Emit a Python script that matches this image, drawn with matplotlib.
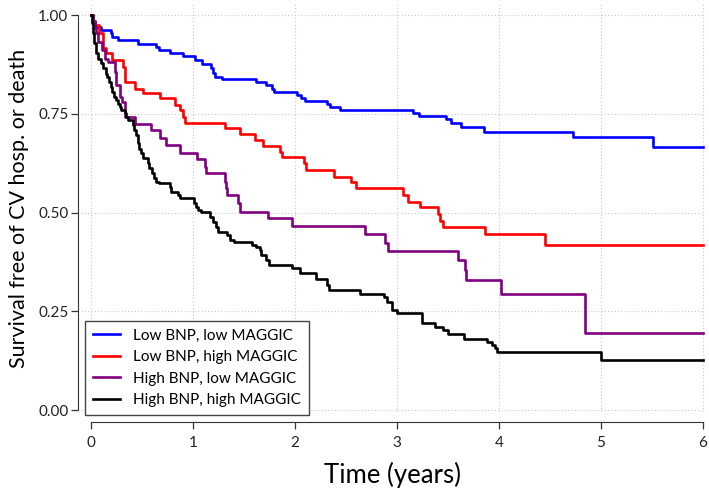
import numpy as np
import matplotlib
matplotlib.use("Agg")
import matplotlib.pyplot as plt

plt.rcParams['font.family'] = ['Lato', 'DejaVu Sans']

# Kaplan-Meier step curves (time in years, survival after each drop)
t_low_low = [0, 0.02, 0.04, 0.10, 0.20, 0.21, 0.26, 0.46, 0.64, 0.67, 0.77, 0.90, 1.02, 1.09,
             1.18, 1.20, 1.22, 1.28, 1.62, 1.72, 1.77, 1.79, 2.02, 2.06, 2.10, 2.31, 2.34, 2.44,
             3.16, 3.22, 3.48, 3.53, 3.63, 3.85, 4.73, 5.51, 6.0]
s_low_low = [1.0, 0.98, 0.970, 0.961, 0.955, 0.945, 0.937, 0.926, 0.918, 0.911, 0.903, 0.896,
             0.886, 0.876, 0.865, 0.854, 0.844, 0.837, 0.830, 0.823, 0.814, 0.806, 0.797, 0.789,
             0.782, 0.774, 0.766, 0.759, 0.751, 0.744, 0.736, 0.727, 0.716, 0.705, 0.690, 0.667,
             0.667]

t_low_high = [0, 0.02, 0.04, 0.08, 0.12, 0.15, 0.21, 0.31, 0.33, 0.43, 0.51, 0.68, 0.82, 0.87,
              0.90, 0.92, 1.31, 1.46, 1.61, 1.69, 1.85, 1.87, 2.09, 2.11, 2.38, 2.55, 2.60, 3.06,
              3.11, 3.23, 3.40, 3.42, 3.45, 3.86, 4.45, 6.0]
s_low_high = [1.0, 0.985, 0.975, 0.954, 0.916, 0.903, 0.886, 0.869, 0.831, 0.814, 0.802, 0.789,
              0.772, 0.759, 0.743, 0.726, 0.713, 0.698, 0.684, 0.668, 0.654, 0.640, 0.625, 0.608,
              0.591, 0.578, 0.561, 0.544, 0.527, 0.513, 0.496, 0.479, 0.464, 0.445, 0.418, 0.418]

t_high_low = [0, 0.02, 0.04, 0.05, 0.07, 0.11, 0.14, 0.17, 0.235, 0.25, 0.28, 0.30, 0.33, 0.43,
              0.59, 0.68, 0.735, 0.87, 1.04, 1.12, 1.13, 1.31, 1.32, 1.33, 1.44, 1.46, 1.74, 1.97,
              2.69, 2.88, 2.91, 3.60, 3.67, 3.68, 4.02, 4.84, 6.0]
s_high_low = [1.0, 0.985, 0.966, 0.954, 0.932, 0.911, 0.890, 0.882, 0.857, 0.823, 0.793, 0.781,
              0.743, 0.724, 0.709, 0.688, 0.671, 0.651, 0.635, 0.616, 0.599, 0.578, 0.561, 0.544,
              0.523, 0.502, 0.485, 0.466, 0.446, 0.424, 0.403, 0.380, 0.354, 0.329, 0.293, 0.196,
              0.196]

t_high_high = [0, 0.01, 0.016, 0.03, 0.05, 0.065, 0.10, 0.115, 0.147, 0.16, 0.18, 0.196, 0.21,
               0.23, 0.245, 0.26, 0.28, 0.29, 0.33, 0.34, 0.36, 0.41, 0.425, 0.44, 0.46, 0.47,
               0.49, 0.51, 0.56, 0.57, 0.60, 0.62, 0.64, 0.67, 0.77, 0.78, 0.85, 0.87, 1.01, 1.03,
               1.05, 1.08, 1.17, 1.20, 1.23, 1.25, 1.33, 1.36, 1.40, 1.575, 1.62, 1.66, 1.67,
               1.72, 1.75, 1.97, 2.05, 2.21, 2.31, 2.33, 2.64, 2.87, 2.90, 2.95, 3.0, 3.25, 3.37,
               3.45, 3.50, 3.66, 3.88, 3.93, 3.96, 3.98, 5.0, 6.0]
s_high_high = [1.0, 0.979, 0.954, 0.928, 0.903, 0.890, 0.878, 0.865, 0.852, 0.844, 0.831, 0.819,
               0.806, 0.793, 0.785, 0.776, 0.768, 0.759, 0.751, 0.743, 0.734, 0.722, 0.709, 0.696,
               0.675, 0.662, 0.650, 0.637, 0.625, 0.612, 0.599, 0.587, 0.578, 0.574, 0.565, 0.553,
               0.544, 0.536, 0.523, 0.515, 0.506, 0.502, 0.489, 0.477, 0.464, 0.451, 0.443, 0.430,
               0.426, 0.418, 0.413, 0.405, 0.392, 0.380, 0.367, 0.359, 0.346, 0.333, 0.316, 0.304,
               0.295, 0.287, 0.274, 0.253, 0.245, 0.221, 0.211, 0.203, 0.192, 0.181, 0.173, 0.165,
               0.156, 0.148, 0.127, 0.127]

labels = ["Low BNP, low MAGGIC", "Low BNP, high MAGGIC",
          "High BNP, low MAGGIC", "High BNP, high MAGGIC"]
colors = ["#0000ff", "#ff0000", "#800080", "#000000"]
x_ticks = [0, 1, 2, 3, 4, 5, 6]
y_ticks = [0.0, 0.25, 0.5, 0.75, 1.0]
y_ticklabels = ["0.00", "0.25", "0.50", "0.75", "1.00"]

W, H = 709, 494
fig = plt.figure(figsize=(W / 100, H / 100), dpi=100)
# plot region in pixels: left 81, right 705, top 4, bottom 412
ax = fig.add_axes([81 / W, 1 - 412 / H, (705 - 81) / W, (412 - 4) / H])

curves = [(t_low_low, s_low_low), (t_low_high, s_low_high),
          (t_high_low, s_high_low), (t_high_high, s_high_high)]
for (t, s), c, lab in zip(curves, colors, labels):
    ax.step(t, s, where='post', color=c, lw=1.9, label=lab, zorder=3)

ax.set_xlim(-0.098, 6.02)
ax.set_ylim(-0.005, 1.028)

# dotted grid like R's grid()
for xv in x_ticks:
    ax.axvline(xv, color='#c8c8c8', lw=0.8, ls=(0, (1, 2)), zorder=1)
for yv in y_ticks:
    ax.axhline(yv, color='#c8c8c8', lw=0.8, ls=(0, (1, 2)), zorder=1)

for side in ['top', 'right']:
    ax.spines[side].set_visible(False)
ax.spines['left'].set_position(('outward', 2))
ax.spines['bottom'].set_position(('outward', 7))
ax.spines['left'].set_bounds(0, 1)
ax.spines['bottom'].set_bounds(0, 6)
ax.spines['left'].set_color('#333333')
ax.spines['bottom'].set_color('#333333')

ax.set_xticks(x_ticks)
ax.set_yticks(y_ticks)
ax.set_yticklabels(y_ticklabels)
ax.tick_params(axis='both', labelsize=11, length=5, width=0.9, color='#333333',
               labelcolor='#222222', pad=2)
ax.tick_params(axis='x', pad=5)

ax.set_xlabel("Time (years)", fontsize=18.5, labelpad=9)
ax.set_ylabel("Survival free of CV hosp. or death", fontsize=15.5, labelpad=7)

leg = ax.legend(loc='lower left', bbox_to_anchor=(4 / 624, -3 / 408), fontsize=11,
                frameon=True, fancybox=False, framealpha=1, edgecolor='#444444',
                handlelength=1.8, labelspacing=0.5, borderpad=0.5, handletextpad=0.85,
                borderaxespad=0)
leg.get_frame().set_linewidth(1.0)

fig.savefig("out.png", dpi=100)
